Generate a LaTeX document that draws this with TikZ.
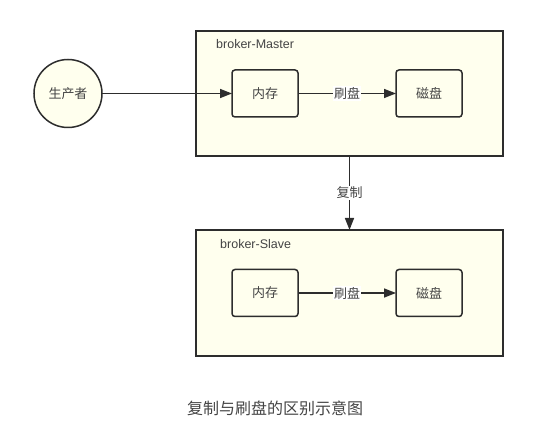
\documentclass[tikz,border=0pt]{standalone}
\usepackage{fontspec}
\setmainfont{Liberation Sans}
\newfontfamily\cjk{Noto Sans CJK SC}
\usetikzlibrary{arrows.meta}
\definecolor{boxfill}{RGB}{255,255,238}
\definecolor{linec}{RGB}{45,45,45}
\definecolor{textc}{RGB}{68,68,68}
\begin{document}
\begin{tikzpicture}[x=1pt,y=-1pt,
  group/.style={draw=linec,fill=boxfill,line width=1.7pt,minimum width=307pt,inner sep=0pt,outer sep=0pt},
  inbox/.style={draw=linec,fill=boxfill,line width=1.5pt,rounded corners=3pt,minimum width=66pt,minimum height=47pt,inner sep=0pt,outer sep=0pt,font=\cjk\fontsize{13pt}{15pt}\selectfont,text=textc},
  person/.style={draw=linec,fill=boxfill,line width=1.5pt,circle,minimum size=68pt,inner sep=0pt,outer sep=0pt,font=\cjk\fontsize{13pt}{15pt}\selectfont,text=textc},
  conn/.style={draw=linec,line width=1.5pt,-{Triangle[length=12pt,width=9pt]}},
  elabel/.style={fill=white,inner sep=1pt,font=\cjk\fontsize{13pt}{15pt}\selectfont,text=textc},
  glabel/.style={anchor=west,inner sep=0pt,font=\fontsize{12.5pt}{15pt}\selectfont,text=textc},
  caption/.style={inner sep=0pt,font=\cjk\fontsize{16pt}{18pt}\selectfont,text=textc}]
\useasboundingbox (0,0) rectangle (533,438);
\node[group,minimum height=125pt] (master) at (349.5,93.5) {};
\node[group,minimum height=126pt] (slave) at (349.5,293) {};
\node[glabel] (mlabel) at (216,44) {broker-Master};
\node[glabel] (slabel) at (220,244) {broker-Slave};
\node[inbox] (mem1) at (265,93.5) {内存};
\node[inbox] (disk1) at (429,93.5) {磁盘};
\node[inbox] (mem2) at (265,293) {内存};
\node[inbox] (disk2) at (429,293) {磁盘};
\node[person] (prod) at (68,93.5) {生产者};
\draw[conn] (prod) -- (mem1);
\draw[conn] (mem1) -- node[elabel] {刷盘} (disk1);
\draw[conn] (mem2) -- node[elabel] {刷盘} (disk2);
\draw[conn] (master.south) -- node[elabel] {复制} (slave.north);
\node[caption] (cap) at (275,408) {复制与刷盘的区别示意图};
\end{tikzpicture}
\end{document}
